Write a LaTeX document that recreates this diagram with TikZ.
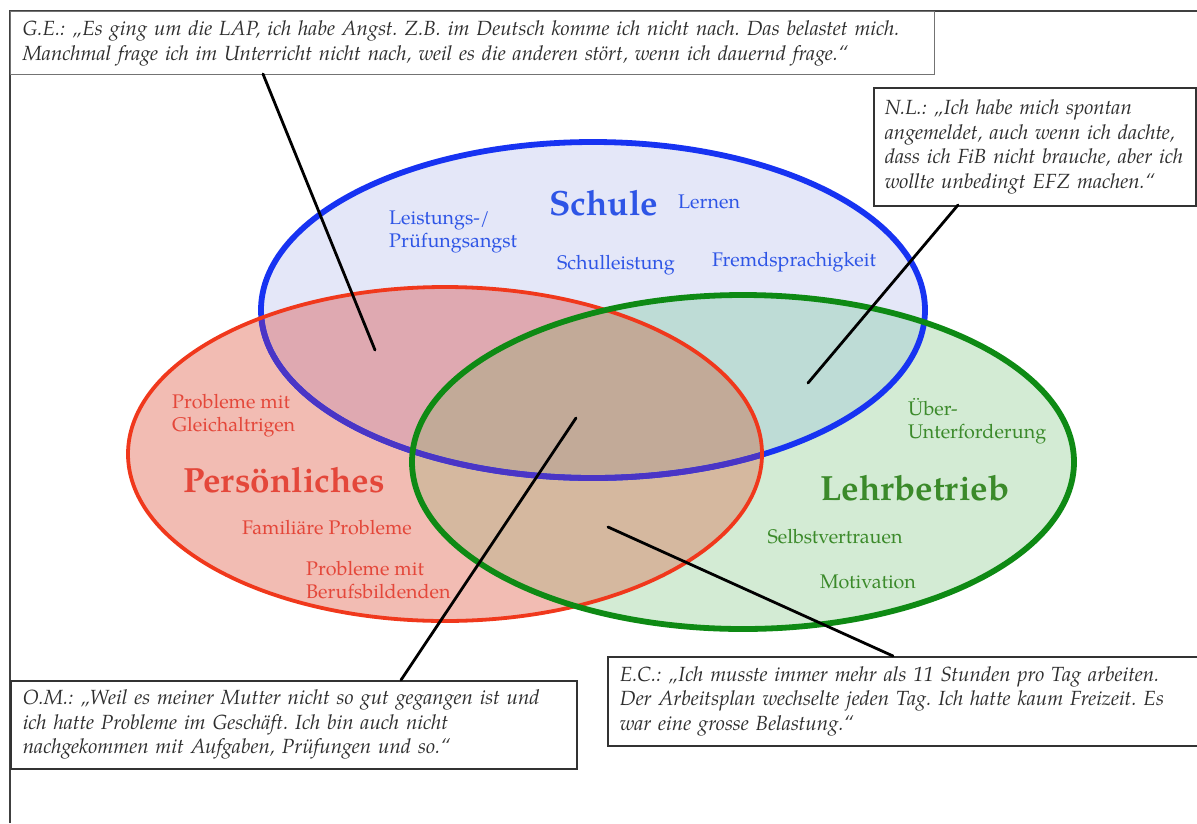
\documentclass[tikz,border=0pt]{standalone}
\usepackage{fontspec}
\setmainfont{TeX Gyre Pagella}
\frenchspacing
\definecolor{bfill}{HTML}{E4E7F8}
\definecolor{rfill}{HTML}{F2BCB3}
\definecolor{gfill}{HTML}{D3EBD4}
\definecolor{brfill}{HTML}{DFA9B1}
\definecolor{bgfill}{HTML}{BEDCD6}
\definecolor{rgfill}{HTML}{D5B89F}
\definecolor{brgfill}{HTML}{C2AA98}
\definecolor{bline}{HTML}{1733F2}
\definecolor{rline}{HTML}{F0381C}
\definecolor{gline}{HTML}{0E8A14}
\definecolor{pline}{HTML}{4A35C6}
\definecolor{btext}{HTML}{2E55E6}
\definecolor{rtext}{HTML}{E4473A}
\definecolor{gtext}{HTML}{3B8A2A}
\definecolor{qtext}{HTML}{2E2E2E}
\begin{document}
\begin{tikzpicture}[x=1pt,y=-1pt,
  quote/.style={draw=#1, line width=1.6pt, fill=white, anchor=north west, inner xsep=12pt, inner ysep=0pt,
     align=left, text=qtext, font=\fontsize{20.5}{24.5}\selectfont\itshape},
  lab/.style={font=\fontsize{19.7}{23}\selectfont, inner sep=0pt},
  title/.style={font=\fontsize{35}{40}\selectfont\bfseries, inner sep=0pt},
  conn/.style={line width=2.8pt, black, line cap=round},
  frame/.style={line width=1.5pt, black!75}]
\useasboundingbox (0,0) rectangle (1197,823);
\def\blueE{(593,310) ellipse [x radius=332pt, y radius=168pt]}
\def\redE{(445,454) ellipse [x radius=317pt, y radius=167pt]}
\def\greenE{(743,462) ellipse [x radius=331pt, y radius=167pt]}
% frame
\draw[frame] (10,823) -- (10,11) -- (1197,11);
% fills
\fill[bfill] \blueE;
\fill[rfill] \redE;
\fill[gfill] \greenE;
\begin{scope}\clip \blueE; \fill[brfill] \redE; \end{scope}
\begin{scope}\clip \blueE; \fill[bgfill] \greenE; \end{scope}
\begin{scope}\clip \redE; \fill[rgfill] \greenE; \end{scope}
\begin{scope}\clip \blueE; \clip \redE; \fill[brgfill] \greenE; \end{scope}
% outlines
\draw[bline, line width=5.8pt] \blueE;
\begin{scope}\clip \redE; \draw[pline, line width=5.8pt] \blueE; \end{scope}
\draw[rline, line width=3.8pt] \redE;
\draw[gline, line width=5.8pt] \greenE;
% labels Schule
\node[title, text=btext] (schule) at (604,203) {Schule};
\node[lab, text=btext] (lernen) at (709,202) {Lernen};
\node[lab, text=btext, align=left, anchor=west] (angst) at (389,232) {Leistungs-/\\Prüfungsangst};
\node[lab, text=btext] (schulleistung) at (616,265) {Schulleistung};
\node[lab, text=btext] (fremd) at (794,262) {Fremdsprachigkeit};
% labels Persoenliches
\node[lab, text=rtext, align=left, anchor=west] (gleich) at (172,416) {Probleme mit\\Gleichaltrigen};
\node[title, text=rtext] (pers) at (284,480) {Persönliches};
\node[lab, text=rtext] (fam) at (327,528) {Familiäre Probleme};
\node[lab, text=rtext, align=left, anchor=west] (beruf) at (306,580) {Probleme mit\\Berufsbildenden};
% labels Lehrbetrieb
\node[lab, text=gtext, align=left, anchor=west] (ueber) at (908,421) {Über-\\Unterforderung};
\node[title, text=gtext] (lehr) at (915,488) {Lehrbetrieb};
\node[lab, text=gtext] (selbst) at (835,537) {Selbstvertrauen};
\node[lab, text=gtext] (moti) at (868,582) {Motivation};
% quote boxes
\node[quote=black!55, line width=1.2pt, minimum width=924pt, minimum height=63pt, text width=900pt] (ge) at (10,11)
  {G.E.: „Es ging um die LAP, ich habe Angst. Z.B. im Deutsch komme ich nicht nach. Das belastet mich.\\Manchmal frage ich im Unterricht nicht nach, weil es die anderen stört, wenn ich dauernd frage.“};
\node[quote=black!80, inner xsep=11pt, minimum width=322pt, minimum height=118pt, text width=300pt] (nl) at (873,87)
  {N.L.: „Ich habe mich spontan\\angemeldet, auch wenn ich dachte,\\dass ich FiB nicht brauche, aber ich\\wollte unbedingt EFZ machen.“};
\node[quote=black!80, minimum width=566pt, minimum height=88pt, text width=542pt] (om) at (10,680)
  {O.M.: „Weil es meiner Mutter nicht so gut gegangen ist und\\ich hatte Probleme im Geschäft. Ich bin auch nicht\\nachgekommen mit Aufgaben, Prüfungen und so.“};
\node[quote=black!80, minimum width=590pt, minimum height=89pt, text width=566pt] (ec) at (607,656)
  {E.C.: „Ich musste immer mehr als 11 Stunden pro Tag arbeiten.\\Der Arbeitsplan wechselte jeden Tag. Ich hatte kaum Freizeit. Es\\war eine grosse Belastung.“};
% connectors
\coordinate (geS) at (263,74);
\coordinate (geE) at (375,350);
\coordinate (nlS) at (958,205);
\coordinate (nlE) at (808,383);
\coordinate (omS) at (401,680);
\coordinate (omE) at (576,418);
\coordinate (ecS) at (893,656);
\coordinate (ecE) at (608,527);
\draw[conn] (geS) -- (geE);
\draw[conn] (nlS) -- (nlE);
\draw[conn] (omS) -- (omE);
\draw[conn] (ecS) -- (ecE);
\end{tikzpicture}
\end{document}
